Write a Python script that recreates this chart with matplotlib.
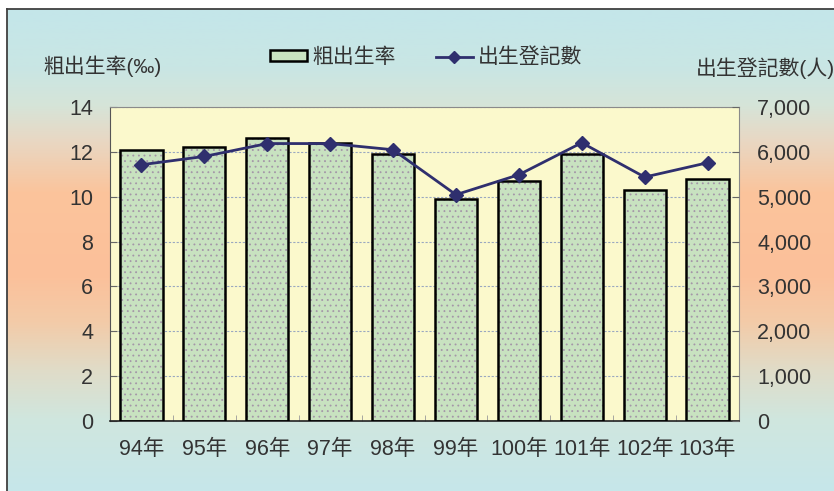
import numpy as np
import matplotlib.pyplot as plt
from matplotlib.colors import LinearSegmentedColormap
from matplotlib.patches import Patch
from matplotlib.lines import Line2D
from matplotlib.ticker import FuncFormatter, MultipleLocator

plt.rcParams['font.family'] = ['Liberation Sans', 'Noto Sans CJK TC', 'DejaVu Sans']
plt.rcParams['hatch.linewidth'] = 0.6

# data
years = ['94年', '95年', '96年', '97年', '98年', '99年', '100年', '101年', '102年', '103年']
birth_rate = [12.1, 12.2, 12.6, 12.4, 11.9, 9.9, 10.7, 11.9, 10.3, 10.8]      # 粗出生率 (‰)
births = [5713, 5898, 6185, 6185, 6047, 5045, 5490, 6203, 5438, 5757]         # 出生登記數 (人)

text_color = '#333333'
bar_fill = '#c8e2c0'
dot_color = '#a496a8'
line_color = '#2f2f6e'

fig = plt.figure(figsize=(8.34, 4.91), dpi=100)

# background panel with vertical gradient (blue - orange - blue)
bg = fig.add_axes([7 / 834, 0, 1, (491 - 9) / 491], zorder=-10)
stops = [(0.0, '#c4e6ea'), (0.12, '#c9e6e4'), (0.2, '#d6e4d8'), (0.27, '#e8d8c4'),
         (0.38, '#fbc49c'), (0.55, '#fcc09a'), (0.65, '#f3cba8'), (0.75, '#e0dcc8'),
         (0.85, '#d0e6de'), (1.0, '#c6e7ea')]
cmap = LinearSegmentedColormap.from_list('bggrad', stops)
grad = np.linspace(0, 1, 256).reshape(-1, 1)
bg.imshow(grad, aspect='auto', cmap=cmap, extent=[0, 1, 0, 1], origin='upper')
bg.set_xticks([])
bg.set_yticks([])
for s in ['right', 'bottom']:
    bg.spines[s].set_visible(False)
for s in ['left', 'top']:
    bg.spines[s].set_color('#404040')
    bg.spines[s].set_linewidth(1.3)

# main plot area
ax = fig.add_axes([110 / 834, (491 - 421) / 491, 629 / 834, 314 / 491])
ax.set_facecolor('#fbf9cc')
x = np.arange(len(years))

ax.bar(x, birth_rate, width=0.67, color=bar_fill, edgecolor=dot_color, hatch='...',
       linewidth=0, zorder=2)
ax.bar(x, birth_rate, width=0.67, color='none', edgecolor='black', linewidth=1.8, zorder=3)

ax.set_xlim(-0.5, len(years) - 0.5)
ax.set_ylim(0, 14)
ax.yaxis.set_major_locator(MultipleLocator(2))
ax.yaxis.grid(True, color='#9aa8c0', linestyle=(0, (2, 1.5)), linewidth=0.8, zorder=1)
ax.set_axisbelow(True)

ax.set_xticks(x)
ax.set_xticklabels(years)
ax.set_xticks(np.arange(0.5, len(years) - 1, 1), minor=True)
ax.tick_params(axis='x', which='major', length=0, pad=13, labelsize=15.5, labelcolor=text_color)
ax.tick_params(axis='x', which='minor', direction='in', length=4, color='#999999')
ax.tick_params(axis='y', direction='in', length=5, color='#666666', pad=12,
               labelsize=15.5, labelcolor=text_color)

ax.spines['top'].set_color('#8a8a8a')
ax.spines['right'].set_color('#8a8a8a')
ax.spines['left'].set_color('#555555')
ax.spines['bottom'].set_color('#222222')
ax.spines['bottom'].set_linewidth(1.2)

# second axis for birth registrations
ax2 = ax.twinx()
ax2.plot(x, births, color=line_color, linewidth=2, marker='D', markersize=7,
         zorder=5)
ax2.set_ylim(0, 7000)
ax2.yaxis.set_major_locator(MultipleLocator(1000))
ax2.yaxis.set_major_formatter(FuncFormatter(lambda v, p: f'{int(v):,}'))
ax2.tick_params(axis='y', direction='in', length=5, color='#666666', pad=13,
                labelsize=15.5, labelcolor=text_color)
for s in ax2.spines.values():
    s.set_visible(False)

# axis titles
fig.text(43 / 834, 1 - 66 / 491, '粗出生率(‰)', fontsize=15, color=text_color,
         ha='left', va='center')
fig.text(696 / 834, 1 - 68 / 491, '出生登記數(人)', fontsize=15, color=text_color,
         ha='left', va='center')

# legend
handles = [Patch(facecolor=bar_fill, edgecolor='black', linewidth=1.8),
           Line2D([0], [0], color=line_color, linewidth=2, marker='D', markersize=6)]
fig.legend(handles, ['粗出生率', '出生登記數'], ncol=2, frameon=False,
           loc='center left', bbox_to_anchor=(251 / 834, 1 - 57 / 491),
           fontsize=15, labelcolor=text_color, handlelength=1.8, handleheight=0.4,
           handletextpad=0.25, columnspacing=1.9)

fig.savefig('out.png', dpi=100)
